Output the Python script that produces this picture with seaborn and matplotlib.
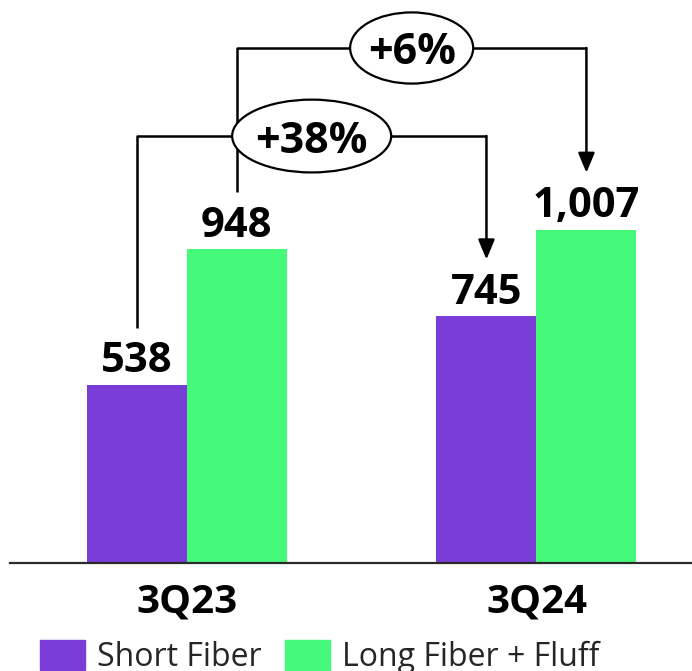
import matplotlib
matplotlib.use("Agg")
import matplotlib.pyplot as plt
from matplotlib.patches import Ellipse
import pandas as pd
import seaborn as sns

# Volumes by quarter and fiber type
quarters = ["3Q23", "3Q24"]
segments = ["Short Fiber", "Long Fiber + Fluff"]
short_fiber = [538, 745]
long_fiber = [948, 1007]
segment_colors = ["#7B3DD8", "#45FA7A"]

df = pd.DataFrame({
    "quarter": quarters * 2,
    "segment": [segments[0]] * 2 + [segments[1]] * 2,
    "value": short_fiber + long_fiber,
})

sns.set_theme(style="white")
plt.rcParams["font.family"] = ["Open Sans", "DejaVu Sans"]

fig = plt.figure(figsize=(6.92, 6.71), dpi=100)
ax = fig.add_axes([10 / 692, 108 / 671, 682 / 692, 563 / 671])

sns.barplot(data=df, x="quarter", y="value", hue="segment",
            palette=segment_colors, width=0.572, saturation=1,
            linewidth=0, ax=ax, legend=False)

ax.set_xlim(-0.506, 1.445)
ax.set_ylim(0, 1701)
ax.set_xlabel("")
ax.set_ylabel("")
ax.set_yticks([])
for side in ("top", "left", "right"):
    ax.spines[side].set_visible(False)
ax.spines["bottom"].set_color("#2b2b2b")
ax.spines["bottom"].set_linewidth(1.6)
ax.tick_params(axis="x", length=0, pad=14)
for lbl in ax.get_xticklabels():
    lbl.set_fontsize(29)
    lbl.set_fontweight("bold")
    lbl.set_color("black")

# Value labels above each bar
for container in ax.containers:
    for bar in container:
        v = bar.get_height()
        ax.annotate(f"{v:,.0f}", xy=(bar.get_x() + bar.get_width() / 2, v),
                    xytext=(0, 9), textcoords="offset points",
                    ha="center", va="baseline", fontsize=30,
                    fontweight="bold", color="black")

# Year-over-year change brackets
bracket_levels = [1290, 1556]
ellipse_sizes = [(0.455, 220), (0.352, 215)]
gap = 172
line_kw = dict(color="black", lw=1.8, solid_capstyle="butt", zorder=3)
for container, level, (ew, eh) in zip(ax.containers, bracket_levels, ellipse_sizes):
    b0, b1 = container[0], container[1]
    x0 = b0.get_x() + b0.get_width() / 2
    x1 = b1.get_x() + b1.get_width() / 2
    v0, v1 = b0.get_height(), b1.get_height()
    ax.plot([x0, x0, x1], [v0 + gap, level, level], **line_kw)
    ax.annotate("", xy=(x1, v1 + gap), xytext=(x1, level),
                arrowprops=dict(arrowstyle="-|>,head_length=0.6,head_width=0.25",
                                mutation_scale=20, color="black", lw=1.8,
                                shrinkA=0, shrinkB=0),
                zorder=3)
    xm = (x0 + x1) / 2
    ax.add_patch(Ellipse((xm, level), ew, eh, facecolor="white",
                         edgecolor="black", lw=1.6, zorder=4))
    pct = round((v1 / v0 - 1) * 100)
    ax.text(xm, level, f"+{pct}%", ha="center", va="center_baseline",
            fontsize=31, fontweight="bold", color="black", zorder=5)

# Legend along the bottom edge
handles = [plt.Rectangle((0, 0), 1, 1, color=c) for c in segment_colors]
fig.legend(handles, segments, loc="upper left",
           bbox_to_anchor=(40 / 692, 1 - 640 / 671), ncol=2, frameon=False,
           fontsize=23, handlelength=1.4, handleheight=1.06,
           handletextpad=0.38, columnspacing=0.75, borderpad=0,
           borderaxespad=0)

fig.savefig("out.png", dpi=100)
